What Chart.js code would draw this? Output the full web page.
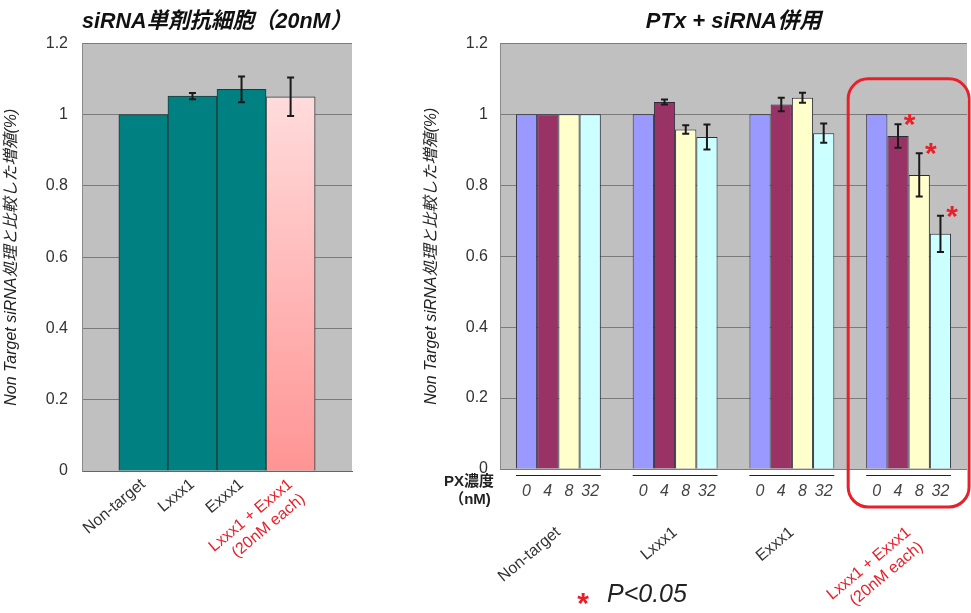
<!DOCTYPE html>
<html>
<head>
<meta charset="utf-8">
<script src="https://cdn.jsdelivr.net/npm/chart.js@4.4.1/dist/chart.umd.min.js"></script>
<style>
  html, body { margin: 0; padding: 0; background: #fff; }
  #wrap { position: relative; width: 971px; height: 613px; overflow: hidden; }
  .box { position: absolute; top: 0; height: 613px; }
  #left { left: 0; width: 420px; }
  #right { left: 420px; width: 551px; }
</style>
</head>
<body>
<div id="wrap">
  <div class="box" id="left"><canvas id="single"></canvas></div>
  <div class="box" id="right"><canvas id="combo"></canvas></div>
</div>
<script>
// ---- data ----
// left: siRNA alone (20nM)
const singleLabels = ["Non-target", "Lxxx1", "Exxx1", ["Lxxx1 + Exxx1", "(20nM each)"]];
const singleValues = [1.0, 1.052, 1.071, 1.05];
const singleErrors = [0, 0.009, 0.036, 0.054];

// right: PTx + siRNA, one series per PX dose
const comboGroups = ["Non-target", "Lxxx1", "Exxx1", ["Lxxx1 + Exxx1", "(20nM each)"]];
const pxDoses = ["0", "4", "8", "32"];
const values0nM = [1.0, 1.0, 1.0, 1.0];
const values4nM = [1.0, 1.035, 1.028, 0.939];
const values8nM = [1.0, 0.957, 1.047, 0.829];
const values32nM = [1.0, 0.936, 0.947, 0.663];
const errors0nM = [0, 0, 0, 0];
const errors4nM = [0, 0.007, 0.019, 0.033];
const errors8nM = [0, 0.012, 0.014, 0.061];
const errors32nM = [0, 0.035, 0.027, 0.051];
const sig4nM = [false, false, false, true];
const sig8nM = [false, false, false, true];
const sig32nM = [false, false, false, true];

const yTicks = [0, 0.2, 0.4, 0.6, 0.8, 1, 1.2];

// ---- style ----
const FONT = "'Liberation Sans', Arial, 'Noto Sans CJK JP', sans-serif";
const RED = "#e8202a";
const groupShare = 0.727; // part of a category taken by the bars
const yTitle = "Non Target siRNA処理と比較した増殖(%)";

Chart.defaults.font.family = FONT;
Chart.defaults.animation = false;

//grey plot area
const plotBg = {
  id: "plotBg",
  beforeDraw(chart) {
    const { ctx, chartArea: a } = chart;
    ctx.save();
    ctx.fillStyle = "#c0c0c0";
    ctx.fillRect(a.left, a.top, a.width, a.height);
    ctx.restore();
  },
};

//error bars from dataset.errors, star where dataset.significant
const errorBars = {
  id: "errorBars",
  afterDatasetsDraw(chart) {
    const { ctx } = chart;
    const y = chart.scales.y;
    ctx.save();
    ctx.strokeStyle = "#1a1a1a";
    ctx.lineWidth = 2;
    chart.data.datasets.forEach((ds, di) => {
      const meta = chart.getDatasetMeta(di);
      meta.data.forEach((bar, i) => {
        const e = ds.errors ? ds.errors[i] : 0;
        if (!e) return;
        const d = ds.data[i];
        const v = typeof d === "object" ? d.y : d;
        const top = y.getPixelForValue(v + e);
        const bot = y.getPixelForValue(v - e);
        ctx.beginPath();
        ctx.moveTo(bar.x, top); ctx.lineTo(bar.x, bot);
        ctx.moveTo(bar.x - 3.5, top); ctx.lineTo(bar.x + 3.5, top);
        ctx.moveTo(bar.x - 3.5, bot); ctx.lineTo(bar.x + 3.5, bot);
        ctx.stroke();
        if (ds.significant && ds.significant[i]) {
          ctx.fillStyle = RED;
          ctx.font = "bold 30px " + FONT;
          ctx.textAlign = "center";
          ctx.textBaseline = "alphabetic";
          ctx.fillText("*", bar.x + bar.width / 2 + 1, top + 10);
        }
      });
    });
    ctx.restore();
  },
};

const yAxis = (w, pad) => ({
  min: 0,
  max: 1.2,
  afterFit: (s) => { s.width = w; },
  afterBuildTicks: (s) => { s.ticks = yTicks.map((v) => ({ value: v })); },
  ticks: {
    padding: pad,
    color: "#333",
    font: { size: 16 },
    callback: (v) => String(+v.toFixed(1)),
  },
  grid: { color: "#7b7b7b", drawTicks: false },
  border: { color: "#8a8a8a" },
  title: {
    display: true,
    text: yTitle,
    color: "#222",
    font: { size: 16, style: "italic" },
    padding: { top: 2, bottom: 0 },
  },
});

const titleOpts = (text) => ({
  display: true,
  text: text,
  fullSize: false,
  color: "#111",
  font: { size: 22, weight: "bold", style: "italic" },
  padding: { top: 9, bottom: 8 },
});

// ---- left chart ----
const singleSpan = singleLabels.length / groupShare;
const singleMid = (singleLabels.length - 1) / 2;
const tealColor = "#008080";

new Chart(document.getElementById("single"), {
  type: "bar",
  plugins: [plotBg, errorBars],
  data: {
    datasets: [
      {
        data: singleValues.map((v, i) => ({ x: i, y: v })),
        errors: singleErrors,
        backgroundColor: (c) => {
          if (c.dataIndex !== 3) return tealColor;
          const a = c.chart.chartArea;
          if (!a) return "#ffc0c0";
          const g = c.chart.ctx.createLinearGradient(0, a.top, 0, a.bottom);
          g.addColorStop(0, "#ffe6e6");
          g.addColorStop(1, "#ff9494");
          return g;
        },
        borderColor: "#233838",
        borderWidth: 1,
        barPercentage: 1,
        categoryPercentage: 1,
      },
    ],
  },
  options: {
    responsive: true,
    maintainAspectRatio: false,
    layout: { padding: { left: 0, right: 68, top: 0, bottom: 0 } },
    plugins: {
      legend: { display: false },
      tooltip: { enabled: false },
      title: titleOpts("siRNA単剤抗細胞（20nM）"),
    },
    scales: {
      x: {
        type: "linear",
        offset: false,
        bounds: "data",
        min: singleMid - singleSpan / 2,
        max: singleMid + singleSpan / 2,
        afterBuildTicks: (s) => { s.ticks = singleLabels.map((_, i) => ({ value: i })); },
        afterFit: (s) => { s.height = 142; },
        grid: { display: false, drawTicks: false, offset: false },
        border: { color: "#666" },
        ticks: {
          autoSkip: false,
          minRotation: 40,
          maxRotation: 40,
          padding: 4,
          color: (c) => (c.index === 3 ? RED : "#333"),
          font: { size: 16 },
          callback: (v, i) => singleLabels[i],
        },
      },
      y: yAxis(82, 14),
    },
  },
});

// ---- right chart ----
const doseColors = ["#9999ff", "#993366", "#ffffcc", "#ccffff"];
const comboSeries = [
  { values: values0nM, errors: errors0nM, sig: null },
  { values: values4nM, errors: errors4nM, sig: sig4nM },
  { values: values8nM, errors: errors8nM, sig: sig8nM },
  { values: values32nM, errors: errors32nM, sig: sig32nM },
];

//dose underline, PX label, red box and p-value note
const comboExtras = {
  id: "comboExtras",
  afterDraw(chart) {
    const { ctx, chartArea: a } = chart;
    const x = chart.scales.x;
    const y = chart.scales.y;
    const groupW = (x.getPixelForValue(1) - x.getPixelForValue(0)) * groupShare;
    ctx.save();
    ctx.strokeStyle = "#222";
    ctx.lineWidth = 1;
    comboGroups.forEach((g, i) => {
      const c = x.getPixelForValue(i);
      ctx.beginPath();
      ctx.moveTo(c - groupW / 2, a.bottom + 6.5);
      ctx.lineTo(c + groupW / 2, a.bottom + 6.5);
      ctx.stroke();
    });
    ctx.fillStyle = "#222";
    ctx.font = "bold 15px " + FONT;
    ctx.textAlign = "center";
    ctx.textBaseline = "middle";
    ctx.fillText("PX濃度", a.left - 31, a.bottom + 13);
    ctx.fillText("（nM)", a.left - 30, a.bottom + 31);

    const last = x.getPixelForValue(comboGroups.length - 1);
    const boxTop = y.getPixelForValue(1.1);
    ctx.strokeStyle = RED;
    ctx.lineWidth = 3;
    ctx.beginPath();
    ctx.roundRect(last - groupW / 2 - 18, boxTop, groupW + 36, a.bottom + 38 - boxTop, 20);
    ctx.stroke();

    ctx.fillStyle = RED;
    ctx.font = "bold 30px " + FONT;
    ctx.fillText("*", a.left + 83, a.bottom + 136);
    ctx.fillStyle = "#222";
    ctx.font = "italic 25px " + FONT;
    ctx.textAlign = "left";
    ctx.fillText("P<0.05", a.left + 107, a.bottom + 126);
    ctx.restore();
  },
};

new Chart(document.getElementById("combo"), {
  type: "bar",
  plugins: [plotBg, errorBars, comboExtras],
  data: {
    labels: comboGroups,
    datasets: comboSeries.map((s, k) => ({
      label: pxDoses[k],
      data: s.values,
      errors: s.errors,
      significant: s.sig,
      xAxisID: "x",
      backgroundColor: doseColors[k],
      borderColor: "#2b2b3a",
      borderWidth: 1,
      barPercentage: 1,
      categoryPercentage: groupShare,
    })),
  },
  options: {
    responsive: true,
    maintainAspectRatio: false,
    layout: { padding: { left: 0, right: 4, top: 0, bottom: 0 } },
    plugins: {
      legend: { display: false },
      tooltip: { enabled: false },
      title: titleOpts("PTx + siRNA併用"),
    },
    scales: {
      x: {
        type: "category",
        weight: 1,
        afterFit: (s) => { s.height = 110; },
        grid: { display: false, drawTicks: false },
        border: { display: false },
        ticks: {
          autoSkip: false,
          minRotation: 40,
          maxRotation: 40,
          padding: 20,
          color: (c) => (c.index === 3 ? RED : "#333"),
          font: { size: 16 },
        },
      },
      dose: {
        type: "linear",
        position: "bottom",
        weight: 0,
        offset: false,
        bounds: "data",
        min: -0.5,
        max: comboGroups.length - 0.5,
        afterBuildTicks: (s) => {
          const ticks = [];
          comboGroups.forEach((g, i) => {
            pxDoses.forEach((d, j) => {
              ticks.push({ value: i + (j - (pxDoses.length - 1) / 2) * groupShare / pxDoses.length });
            });
          });
          s.ticks = ticks;
        },
        afterFit: (s) => { s.height = 34; },
        grid: { display: false, drawTicks: false, offset: false },
        border: { display: false },
        ticks: {
          autoSkip: false,
          maxRotation: 0,
          padding: 13,
          color: "#444",
          font: { size: 16, style: "italic" },
          callback: (v, i) => pxDoses[i % pxDoses.length],
        },
      },
      y: yAxis(80, 12),
    },
  },
});
</script>
</body>
</html>
